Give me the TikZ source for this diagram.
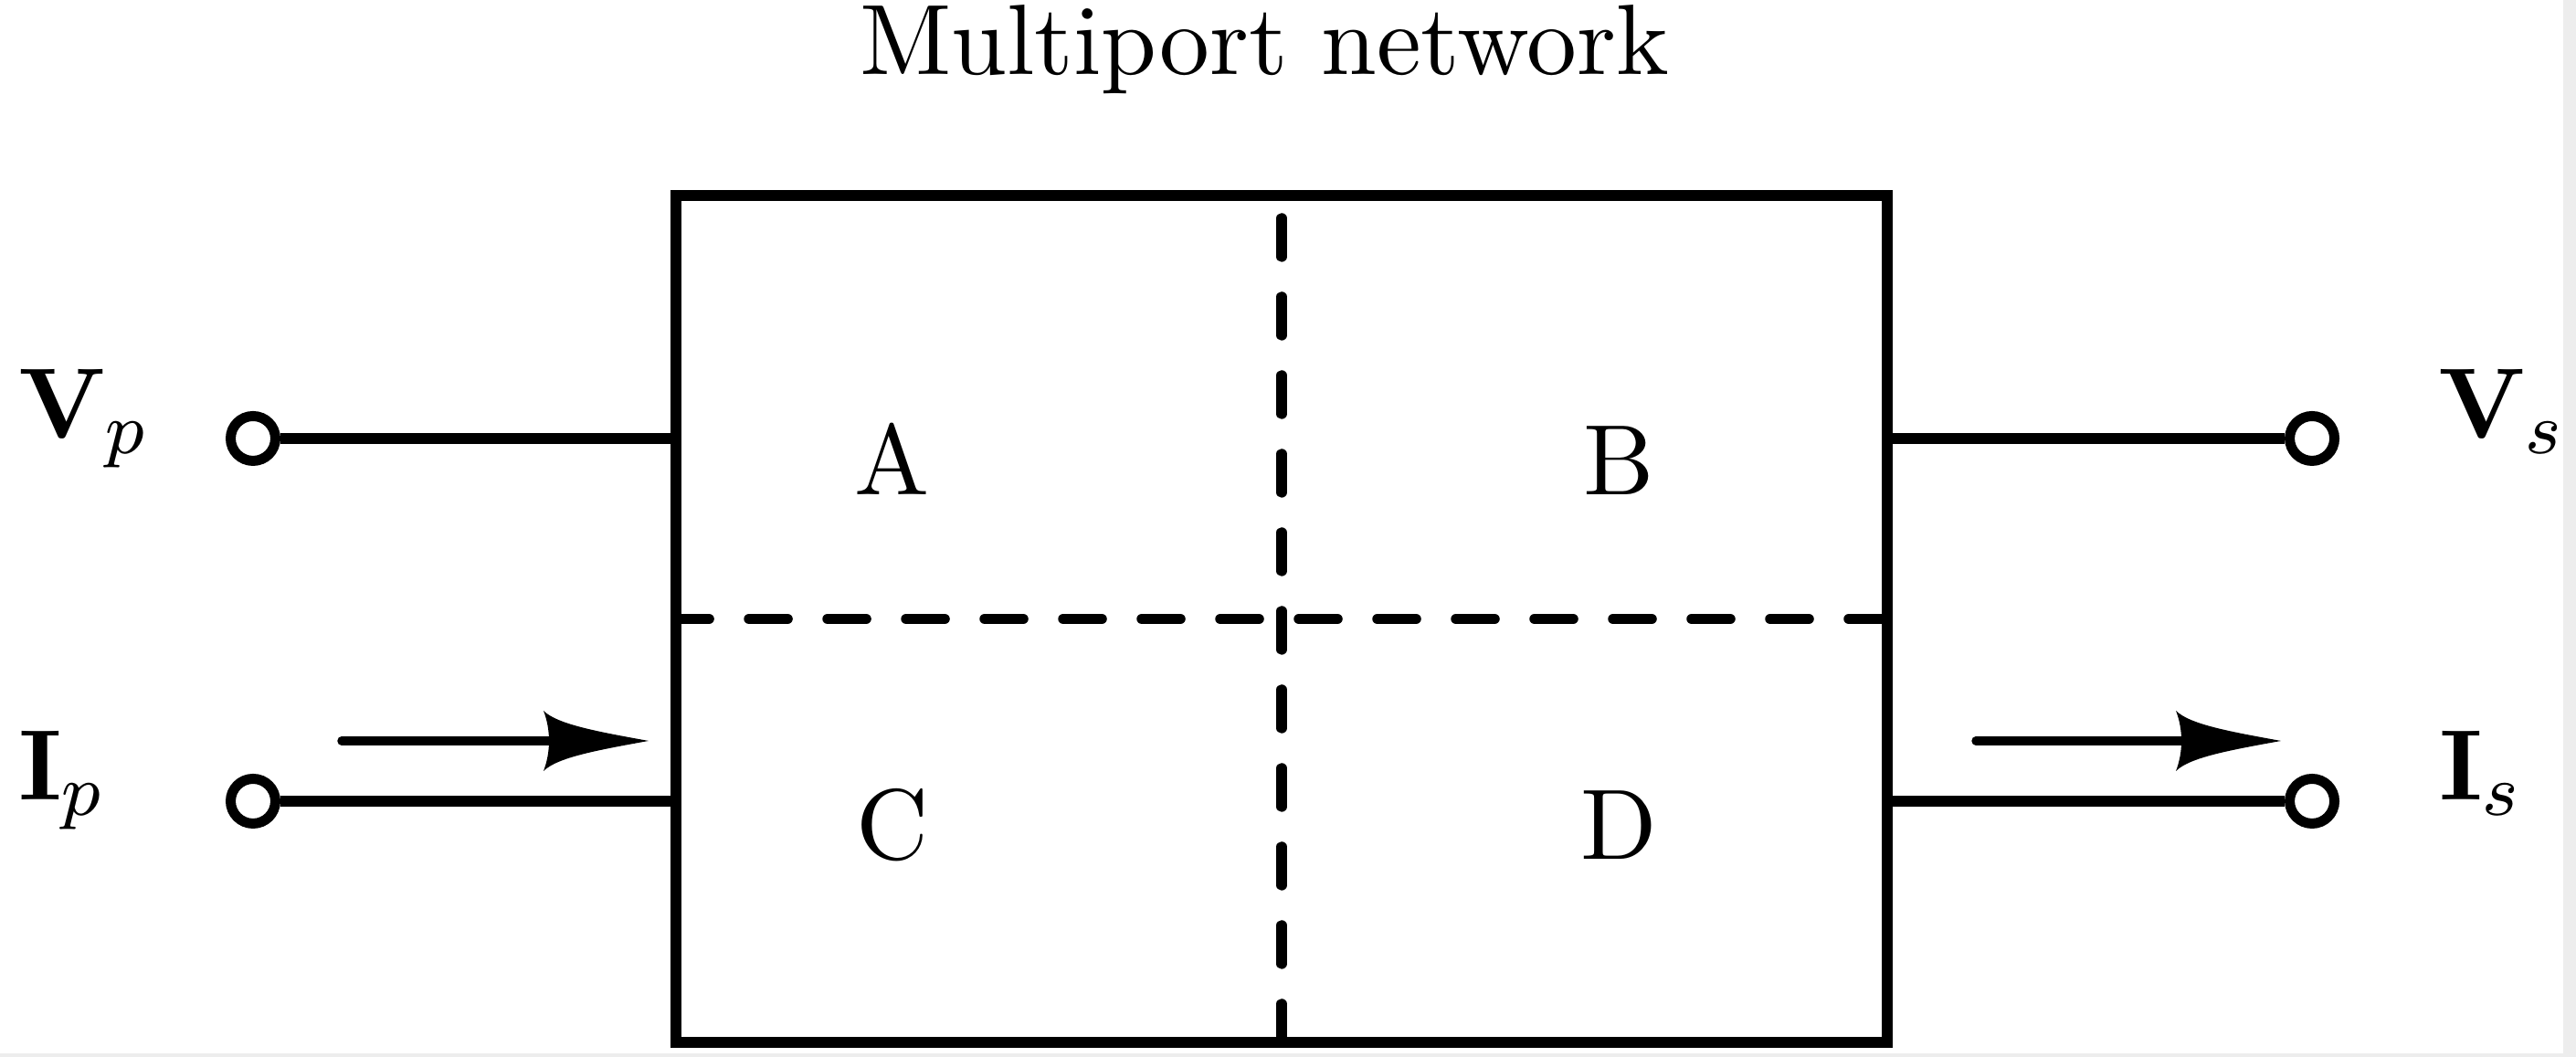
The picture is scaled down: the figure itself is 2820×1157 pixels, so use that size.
\documentclass[tikz,border=0pt]{standalone}
\tikzset{
  wire/.style={line width=1.2pt},
  term/.style={circle, draw, line width=1.1pt, minimum size=4.9pt, inner sep=0pt, fill=white},
  dashline/.style={line width=1.15pt, line cap=round, dash pattern=on 4.2pt off 4.4pt},
  shaft/.style={line width=0.95pt, line cap=round},
  lbl/.style={inner sep=0pt, font=\fontsize{10.95}{13.6}\selectfont},
  boxstyle/.style={draw, line width=1.2pt, minimum width=132.6pt, minimum height=92.7pt, inner sep=0pt, outer sep=0pt},
}
\begin{document}
\begin{tikzpicture}[x=0.1pt,y=-0.1pt]
\useasboundingbox (0,0) rectangle (2820,1157);
\fill[white] (0,0) rectangle (2820,1157);
\fill[black!7] (2806,0) rectangle (2820,1157);
\fill[black!7] (0,1153) rectangle (2820,1157);

% title
\node[lbl, anchor=base] (title) at (1384,82) {Multiport network};

% box
\node[boxstyle] (box) at (1403,677.5) {};
\draw[dashline] (box.east) -- (box.west);
\draw[dashline] (box.south) -- (box.north);

% block labels
\node[lbl, anchor=base] (A) at (977,542) {A};
\node[lbl, anchor=base] (B) at (1772,542) {B};
\node[lbl, anchor=base] (C) at (977,941) {C};
\node[lbl, anchor=base] (D) at (1772,941) {D};

% terminals
\node[term] (tvp) at (277,480) {};
\node[term] (tip) at (277,877) {};
\node[term] (tvs) at (2531,480) {};
\node[term] (tis) at (2531,877) {};
\draw[wire] (tvp) -- (tvp -| box.west);
\draw[wire] (tip) -- (tip -| box.west);
\draw[wire] (tvs) -- (tvs -| box.east);
\draw[wire] (tis) -- (tis -| box.east);

% port labels
\node[lbl, anchor=base west] (vp) at (18,480) {$\mathbf{V}_p$};
\node[lbl, anchor=base west] (ip) at (18,876) {$\mathbf{I}_p$};
\node[lbl, anchor=base west] (vs) at (2667,480) {$\mathbf{V}_s$};
\node[lbl, anchor=base west] (is) at (2668,876) {$\mathbf{I}_s$};

% current arrows
\coordinate (ipa) at (374,811);
\coordinate (ipb) at (710,811);
\coordinate (isa) at (2163,811);
\coordinate (isb) at (2497,811);
\draw[shaft] (ipa) -- ([xshift=-10pt]ipb);
\draw[shaft] (isa) -- ([xshift=-10pt]isb);
\fill[shift={(ipb)}] (0,0) .. controls (-55,-10) and (-100,-18) .. (-115,-33)
  .. controls (-107,-12) and (-107,12) .. (-115,33)
  .. controls (-100,18) and (-55,10) .. (0,0) -- cycle;
\fill[shift={(isb)}] (0,0) .. controls (-55,-10) and (-100,-18) .. (-115,-33)
  .. controls (-107,-12) and (-107,12) .. (-115,33)
  .. controls (-100,18) and (-55,10) .. (0,0) -- cycle;
\end{tikzpicture}
\end{document}
